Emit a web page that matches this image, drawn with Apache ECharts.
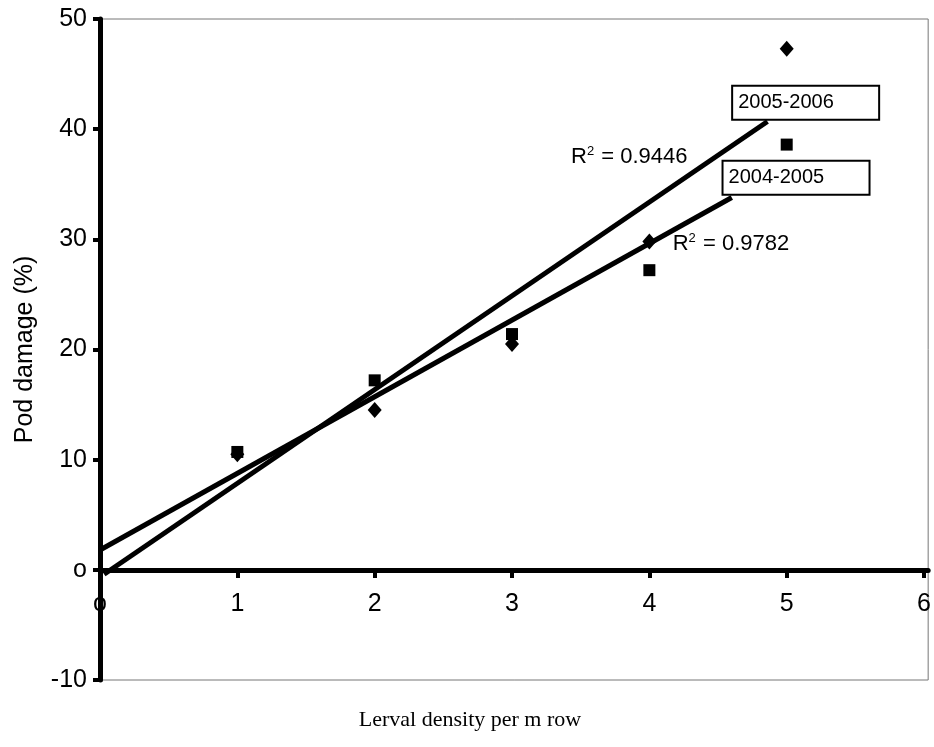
<!DOCTYPE html>
<html>
<head>
<meta charset="utf-8">
<script src="https://cdn.jsdelivr.net/npm/echarts@6/dist/echarts.min.js"></script>
<style>
  html, body { margin: 0; padding: 0; background: #fff; }
  #chart { width: 934px; height: 747px; }
</style>
</head>
<body>
<div id="chart"></div>
<script>
// larval density (x) and pod damage (%)
const density = [1, 2, 3, 4, 5]
const damage0405 = [10.7, 17.2, 21.4, 27.2, 38.6]
const damage0506 = [10.5, 14.5, 20.5, 29.8, 47.3]

// trendline ends
const trend0405 = [[0, 1.8], [4.6, 33.8]]
const trend0506 = [[0.03, -0.4], [4.86, 40.7]]

const r2Labels = [
  { text: '0.9446', at: [3.43, 37.5] },
  { text: '0.9782', at: [4.17, 29.6] }
]
const boxLabels = [
  { text: '2005-2006', at: [4.61, 42.4] },
  { text: '2004-2005', at: [4.54, 35.6] }
]

const xTicks = [0, 1, 2, 3, 4, 5, 6]
const yTicks = [-10, 0, 10, 20, 30, 40, 50]

// the source draws its zeros as a small "o"
function tickText(v, ticks) {
  if (ticks.indexOf(v) < 0) return ''
  return v === 0 ? 'o' : String(v)
}

let chart = echarts.init(document.getElementById('chart'))
chart.setOption({
  animation: false,
  grid: {
    left: 100,
    top: 19,
    width: 832,
    height: 661,
    show: true,
    borderColor: '#777',
    borderWidth: 1
  },
  xAxis: {
    type: 'value',
    min: 0,
    max: 6.03,
    interval: 1,
    position: 'bottom',
    offset: -110,
    axisLine: { onZero: false, lineStyle: { color: '#000', width: 5 } },
    axisTick: { show: true, inside: false, length: 8, lineStyle: { color: '#000', width: 4 } },
    axisLabel: {
      color: '#000', fontSize: 25, margin: 22, fontFamily: 'Liberation Sans',
      showMaxLabel: false,
      formatter: v => tickText(v, xTicks)
    },
    splitLine: { show: false }
  },
  yAxis: {
    type: 'value',
    min: -10,
    max: 50,
    interval: 10,
    name: 'Pod damage (%)',
    nameLocation: 'middle',
    nameGap: 62,
    nameTextStyle: { color: '#000', fontSize: 25, fontFamily: 'Liberation Sans' },
    axisLine: { onZero: false, lineStyle: { color: '#000', width: 5 } },
    axisTick: { show: true, length: 7, lineStyle: { color: '#000', width: 4 } },
    axisLabel: {
      color: '#000', fontSize: 25, margin: 13, fontFamily: 'Liberation Sans',
      formatter: v => tickText(v, yTicks)
    },
    splitLine: { show: false }
  },
  graphic: [{
    type: 'text',
    x: 470,
    y: 720,
    style: {
      text: 'Lerval density per m row',
      font: '22px "Liberation Serif"',
      fill: '#000',
      textAlign: 'center',
      textVerticalAlign: 'middle'
    }
  }],
  series: [
    {
      type: 'line',
      data: trend0506,
      symbol: 'none',
      lineStyle: { color: '#000', width: 5 },
      z: 2
    },
    {
      type: 'line',
      data: trend0405,
      symbol: 'none',
      lineStyle: { color: '#000', width: 5 },
      z: 2
    },
    {
      type: 'scatter',
      data: density.map((d, i) => [d, damage0506[i]]),
      symbol: 'diamond',
      symbolSize: [14, 16],
      itemStyle: { color: '#000', opacity: 1 },
      z: 3
    },
    {
      type: 'scatter',
      data: density.map((d, i) => [d, damage0405[i]]),
      symbol: 'rect',
      symbolSize: 12,
      itemStyle: { color: '#000', opacity: 1 },
      z: 3
    },
    {
      type: 'scatter',
      data: r2Labels.map(l => ({ value: l.at, name: l.text })),
      symbolSize: 0,
      itemStyle: { opacity: 1 },
      label: {
        show: true,
        position: 'right',
        distance: 0,
        formatter: p => 'R{sup|2} = ' + p.name,
        color: '#000',
        fontSize: 22,
        fontFamily: 'Liberation Sans',
        rich: {
          sup: { fontSize: 13, verticalAlign: 'top', padding: [0, 1, 10, 0], color: '#000', fontFamily: 'Liberation Sans' }
        }
      },
      z: 4
    },
    {
      type: 'scatter',
      data: boxLabels.map(l => ({ value: l.at, name: l.text })),
      symbolSize: 0,
      itemStyle: { opacity: 1 },
      label: {
        show: true,
        position: 'right',
        distance: 0,
        formatter: p => p.name,
        color: '#000',
        fontSize: 20,
        fontFamily: 'Liberation Sans',
        backgroundColor: '#fff',
        borderColor: '#000',
        borderWidth: 2,
        textBorderWidth: 0,
        width: 138,
        height: 24,
        lineHeight: 24,
        padding: [0, 2, 8, 5],
        align: 'left',
        verticalAlign: 'middle'
      },
      z: 5
    }
  ]
})
</script>
</body>
</html>
